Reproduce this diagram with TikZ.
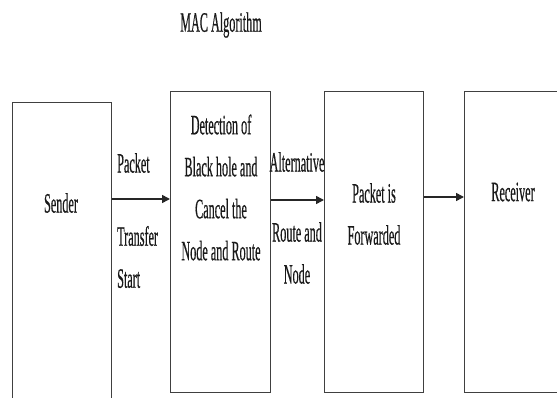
\documentclass[tikz,border=0pt]{standalone}
\usepackage{fontspec}
\setmainfont[FakeBold=0.8]{Liberation Serif}
\usetikzlibrary{arrows.meta}
\newcommand{\sq}[1]{\scalebox{0.435}[1]{#1}}
\begin{document}
\begin{tikzpicture}[x=1pt,y=1pt,
  box/.style={draw=black!75, line width=1.3pt, inner sep=0pt, anchor=north west},
  txt/.style={font=\fontsize{28}{42}\selectfont, align=center, inner sep=0pt, text=black!90},
  arr/.style={line width=1.6pt, draw=black!85, -{Triangle[length=8pt,width=8pt]}}]
\useasboundingbox (0,0) rectangle (557,-398);
\clip (0,0) rectangle (557,-398);
% boxes
\node[box, minimum width=99pt, minimum height=320pt] (sender) at (12,-102) {};
\node[box, minimum width=100pt, minimum height=301pt] (detect) at (170,-91) {};
\node[box, minimum width=99pt, minimum height=301pt] (fwdbox) at (324,-91) {};
\node[box, minimum width=120pt, minimum height=301pt] (recvbox) at (464,-91) {};
% texts
\node[txt] (title) at (221,-25) {\sq{MAC Algorithm}};
\node[txt] (sendert) at (61,-203) {\sq{Sender}};
\node[txt, anchor=west] (pkt) at (117,-163) {\sq{Packet}};
\node[txt, anchor=west, align=left] (ts) at (117,-257) {\sq{Transfer}\\\sq{Start}};
\node[txt] (det) at (221,-187.5) {\sq{Detection of}\\\sq{Black hole and}\\\sq{Cancel the}\\\sq{Node and Route}};
\node[txt] (alt) at (297,-162) {\sq{Alternative}};
\node[txt] (rn) at (297,-253) {\sq{Route and}\\\sq{Node}};
\node[txt] (fwd) at (374,-214) {\sq{Packet is}\\\sq{Forwarded}};
\node[txt] (recv) at (513,-192) {\sq{Receiver}};
% arrows
\coordinate (lvl1) at (0,-199);
\coordinate (lvl2) at (0,-200);
\coordinate (lvl3) at (0,-197);
\draw[arr] (sender.east |- lvl1) -- (detect.west |- lvl1);
\draw[arr] (detect.east |- lvl2) -- (fwdbox.west |- lvl2);
\draw[arr] (fwdbox.east |- lvl3) -- (recvbox.west |- lvl3);
\end{tikzpicture}
\end{document}
